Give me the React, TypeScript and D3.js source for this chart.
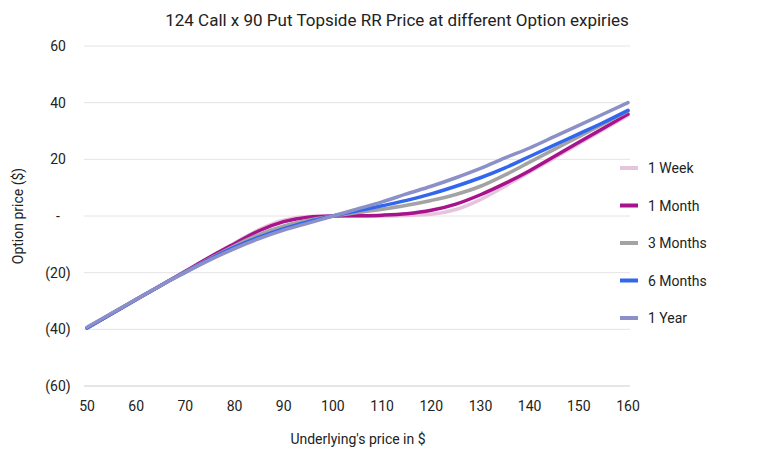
import * as d3 from "d3";

const xs = [50, 55, 60, 65, 70, 75, 80, 85, 90, 95, 100, 105, 110, 115, 120, 125, 130, 135, 140, 145, 150, 155, 160];
const week = [-39.5, -34.5, -29.5, -24.5, -19.5, -14.5, -9.5, -4.8, -1.5, -0.2, 0, 0, 0, 0.2, 0.6, 2.3, 5.8, 10.5, 15.5, 20.5, 25.5, 30.5, 35.5];
const month = [-39.5, -34.5, -29.5, -24.5, -19.5, -14.5, -9.8, -5.2, -2, -0.4, 0, 0.1, 0.3, 0.8, 2, 4.2, 7.5, 11.5, 16, 21, 26, 31, 36];
const months3 = [-39.5, -34.5, -29.5, -24.5, -19.7, -15, -10.5, -6.5, -3.5, -1.5, 0, 1.2, 2.4, 3.8, 5.5, 7.6, 10.5, 14.5, 19, 23.5, 28, 32.5, 37];
const months6 = [-39.5, -34.5, -29.5, -24.5, -19.8, -15.2, -11, -7.5, -4.5, -2, 0, 1.8, 3.6, 5.5, 7.8, 10.5, 13.5, 17, 21, 25, 29, 33, 37.3];
const year1 = [-39.3, -34.3, -29.4, -24.5, -19.9, -15.5, -11.5, -8, -5, -2.5, 0, 2.5, 5, 7.8, 10.5, 13.5, 16.8, 20.5, 24, 28, 32, 36, 40];
const seriesNames = ["1 Week", "1 Month", "3 Months", "6 Months", "1 Year"];
const seriesColors = ["#e6c4dc", "#a8128c", "#a3a3a3", "#3366ee", "#8b90c8"];
const seriesData = [week, month, months3, months6, year1];
const xTicks = [50, 60, 70, 80, 90, 100, 110, 120, 130, 140, 150, 160];
const yTicks = [-60, -40, -20, 0, 20, 40, 60];

const font = "Roboto, sans-serif";

export default function App() {
  const W = 768, H = 453;
  const x = d3.scaleLinear().domain([50, 160]).range([87, 628]);
  const y = d3.scaleLinear().domain([-60, 60]).range([386, 46]);
  const line = d3.line<number>().x((_, i) => x(xs[i])).y((d) => y(d)).curve(d3.curveMonotoneX);
  const fmt = (v: number) => (v === 0 ? "-" : v < 0 ? `(${-v})` : `${v}`);
  return (
    <svg width={W} height={H} style={{ position: "absolute", left: 0, top: 0, fontFamily: font }}>
      <rect width={W} height={H} fill="#fff" />
      <text x={397} y={26} textAnchor="middle" fontSize={17} fill="#222">
        124 Call x 90 Put Topside RR Price at different Option expiries
      </text>
      {yTicks.map((t) => (
        <g key={t}>
          <line x1={84} x2={630} y1={y(t)} y2={y(t)} stroke={t === -60 ? "#ccc" : "#e4e4e4"} strokeWidth={1} />
          <text x={58} y={y(t) + 5} textAnchor="middle" fontSize={14} fill="#222">{fmt(t)}</text>
        </g>
      ))}
      {xTicks.map((t) => (
        <text key={t} x={x(t)} y={411} textAnchor="middle" fontSize={14} fill="#222">{t}</text>
      ))}
      <text x={358} y={444} textAnchor="middle" fontSize={14} fill="#222">Underlying's price in $</text>
      <text transform="translate(23,216) rotate(-90)" textAnchor="middle" fontSize={14} fill="#222">Option price ($)</text>
      {seriesData.map((d, i) => (
        <path key={i} d={line(d) || ""} fill="none" stroke={seriesColors[i]} strokeWidth={3.5} strokeLinecap="round" />
      ))}
      {seriesNames.map((n, i) => (
        <g key={n} transform={`translate(620,${168 + i * 37.5})`}>
          <line x1={0} x2={18} y1={0} y2={0} stroke={seriesColors[i]} strokeWidth={4} />
          <text x={28} y={5} fontSize={14} fill="#222">{n}</text>
        </g>
      ))}
    </svg>
  );
}
